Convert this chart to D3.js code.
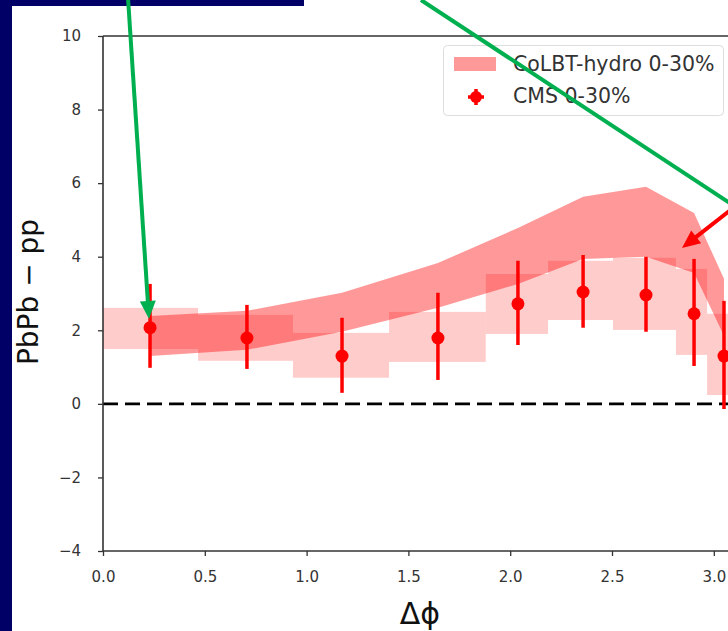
<!DOCTYPE html>
<html><head><meta charset="utf-8">
<script src="https://cdn.jsdelivr.net/npm/d3@7"></script>
<style>body{margin:0;background:#000066;overflow:hidden} svg{display:block}</style>
</head><body><svg id="c" width="728" height="631"></svg>
<script>
// ---- data ----
const xTicks = [0, 0.5, 1.0, 1.5, 2.0, 2.5, 3.0];
const yTicks = [-4, -2, 0, 2, 4, 6, 8, 10];
// CMS data points
const cmsX  = [0.231, 0.707, 1.174, 1.645, 2.038, 2.358, 2.667, 2.903, 3.050];
const cmsY  = [2.07, 1.79, 1.30, 1.79, 2.72, 3.04, 2.96, 2.45, 1.30];
const cmsHi = [3.26, 2.69, 2.34, 3.02, 3.89, 4.05, 4.00, 3.94, 2.80];
const cmsLo = [0.98, 0.95, 0.30, 0.65, 1.60, 2.07, 1.96, 1.03, -0.14];
// CMS systematic boxes
const binEdges = [0, 0.467, 0.933, 1.405, 1.88, 2.186, 2.505, 2.814, 2.967, 3.1416];
const sysHi = [2.61, 2.42, 1.93, 2.50, 3.53, 3.89, 3.97, 3.67, 2.45];
const sysLo = [1.49, 1.17, 0.71, 1.14, 1.90, 2.28, 2.01, 1.33, 0.24];
// CoLBT-hydro band
const thX  = [0.231, 0.707, 1.174, 1.645, 2.038, 2.358, 2.667, 2.903, 3.050];
const thHi = [2.39, 2.53, 3.02, 3.83, 4.78, 5.63, 5.90, 5.19, 3.40];
const thLo = [1.30, 1.47, 1.96, 2.61, 3.26, 3.94, 4.00, 3.56, 1.85];
const legendLabels = ["CoLBT-hydro 0-30%", "CMS 0-30%"];

// ---- drawing ----
const svg = d3.select('#c');
const FONT = "'DejaVu Sans', sans-serif";
svg.append('rect').attr('width', 728).attr('height', 631).attr('fill', '#000066');
svg.append('rect').attr('x', 12).attr('y', 6).attr('width', 716).attr('height', 625).attr('fill', '#fff');
svg.append('rect').attr('x', 304).attr('y', 0).attr('width', 424).attr('height', 8).attr('fill', '#fff');

const x = d3.scaleLinear().domain([0, Math.PI]).range([103, 103 + Math.PI * 203.6]);
const y = d3.scaleLinear().domain([-4, 10]).range([551, 36]);

svg.append('clipPath').attr('id', 'clip').append('rect')
  .attr('x', x(0)).attr('y', y(10)).attr('width', x(Math.PI) - x(0)).attr('height', y(-4) - y(10));
const plot = svg.append('g').attr('clip-path', 'url(#clip)');

// systematic boxes
const boxes = sysHi.map((h, i) => ({x0: binEdges[i], x1: binEdges[i + 1], hi: h, lo: sysLo[i]}));
plot.selectAll('rect.sys').data(boxes).join('rect').attr('class', 'sys')
  .attr('x', d => x(d.x0)).attr('width', d => x(d.x1) - x(d.x0))
  .attr('y', d => y(d.hi)).attr('height', d => y(d.lo) - y(d.hi))
  .attr('fill', 'rgba(255,0,0,0.2)');

// theory band
const band = thX.map((v, i) => ({x: v, hi: thHi[i], lo: thLo[i]}));
plot.append('path').datum(band)
  .attr('d', d3.area().x(d => x(d.x)).y0(d => y(d.lo)).y1(d => y(d.hi)))
  .attr('fill', 'rgba(255,0,0,0.4)');

// zero line
plot.append('line').attr('x1', x(0)).attr('x2', x(Math.PI)).attr('y1', y(0)).attr('y2', y(0))
  .attr('stroke', '#000').attr('stroke-width', 2.6).attr('stroke-dasharray', '15,7');

// CMS points
const pts = cmsX.map((v, i) => ({x: v, y: cmsY[i], hi: cmsHi[i], lo: cmsLo[i]}));
plot.selectAll('line.err').data(pts).join('line').attr('class', 'err')
  .attr('x1', d => x(d.x)).attr('x2', d => x(d.x))
  .attr('y1', d => y(d.hi)).attr('y2', d => y(d.lo))
  .attr('stroke', '#ff0000').attr('stroke-width', 3.5);
plot.selectAll('circle.pt').data(pts).join('circle').attr('class', 'pt')
  .attr('cx', d => x(d.x)).attr('cy', d => y(d.y)).attr('r', 6.5).attr('fill', '#ff0000');

// axes
const ay = svg.append('g').attr('transform', `translate(${x(0)},0)`)
  .call(d3.axisLeft(y).tickValues(yTicks).tickSize(5).tickSizeOuter(0).tickPadding(17)
    .tickFormat(d => d < 0 ? '\u2212' + Math.abs(d) : String(d)));
const ax = svg.append('g').attr('transform', `translate(0,${y(-4)})`)
  .call(d3.axisBottom(x).tickValues(xTicks).tickSize(5).tickSizeOuter(0).tickPadding(15)
    .tickFormat(d3.format('.1f')));
[ay, ax].forEach(g => {
  g.select('.domain').remove();
  g.selectAll('line').attr('stroke', '#333').attr('stroke-width', 1.3);
  g.selectAll('text').attr('fill', '#333').style('font-family', FONT).style('font-size', '15px');
});
// spines
svg.append('line').attr('x1', x(0)).attr('x2', x(0)).attr('y1', y(10)).attr('y2', y(-4))
  .attr('stroke', '#333').attr('stroke-width', 1.6);
svg.append('line').attr('x1', x(0)).attr('x2', 728).attr('y1', y(10)).attr('y2', y(10))
  .attr('stroke', '#333').attr('stroke-width', 1.6);
svg.append('line').attr('x1', x(0)).attr('x2', 728).attr('y1', y(-4)).attr('y2', y(-4))
  .attr('stroke', '#333').attr('stroke-width', 1.6);

// axis labels
svg.append('text').attr('x', 420).attr('y', 624).attr('text-anchor', 'middle')
  .style('font-family', FONT).style('font-size', '30px').attr('fill', '#111').text('Δϕ');
svg.append('text').attr('transform', 'translate(38,292) rotate(-90)').attr('text-anchor', 'middle')
  .style('font-family', FONT).style('font-size', '28px').attr('fill', '#111').text('PbPb − pp');

// legend
const lg = svg.append('g');
lg.append('rect').attr('x', 443.5).attr('y', 45.5).attr('width', 280).attr('height', 70).attr('rx', 4)
  .attr('fill', 'rgba(255,255,255,0.85)').attr('stroke', '#dddddd').attr('stroke-width', 1);
lg.append('rect').attr('x', 454).attr('y', 57).attr('width', 42).attr('height', 14).attr('fill', 'rgba(255,0,0,0.4)');
lg.append('line').attr('x1', 476).attr('x2', 476).attr('y1', 89).attr('y2', 105).attr('stroke', '#ff0000').attr('stroke-width', 3.5);
lg.append('line').attr('x1', 468).attr('x2', 484).attr('y1', 97).attr('y2', 97).attr('stroke', '#ff0000').attr('stroke-width', 3.5);
lg.append('circle').attr('cx', 476).attr('cy', 97).attr('r', 6).attr('fill', '#ff0000');
lg.selectAll('text').data(legendLabels).join('text')
  .attr('x', 513).attr('y', (d, i) => 71 + i * 32)
  .style('font-family', FONT).style('font-size', '20.5px').attr('fill', '#333').text(d => d);

// slide annotation arrows (pixel overlay)
function arrow(x1, y1, x2, y2, color, w, L, W) {
  const dx = x2 - x1, dy = y2 - y1, len = Math.hypot(dx, dy), ux = dx / len, uy = dy / len;
  const bx = x2 - ux * L, by = y2 - uy * L;
  svg.append('line').attr('x1', x1).attr('y1', y1).attr('x2', bx + ux * 2).attr('y2', by + uy * 2)
    .attr('stroke', color).attr('stroke-width', w);
  if (L > 0) svg.append('path').attr('d', `M${x2},${y2}L${bx - uy * W / 2},${by + ux * W / 2}L${bx + uy * W / 2},${by - ux * W / 2}Z`)
    .attr('fill', color);
}
arrow(128, -2, 149, 319, '#00b050', 4, 18, 16);
arrow(421, 0, 745, 213, '#00b050', 4, 0, 0);
arrow(742, 201, 682, 248, '#ff0000', 4, 18, 16);
</script></body></html>
